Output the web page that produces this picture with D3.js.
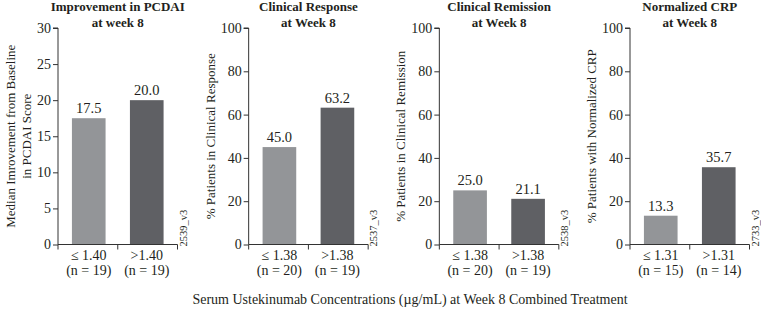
<!DOCTYPE html>
<html>
<head>
<meta charset="utf-8">
<script src="https://cdn.jsdelivr.net/npm/d3@7"></script>
<style>
	body { margin: 0; background: #fff; }
	svg { display: block; font-family: 'Liberation Serif', 'DejaVu Serif', serif; fill: #231f20; }
	.title { font-weight: bold; font-size: 13px; }
	.axis path, .axis line { stroke: #333; }
	.axis text { font-size: 14px; fill: #231f20; font-family: 'Liberation Serif', serif; }
</style>
</head>
<body>
<script>
const panelTitles = [
	['Improvement in PCDAI', 'at week 8'],
	['Clinical Response', 'at Week 8'],
	['Clinical Remission', 'at Week 8'],
	['Normalized CRP', 'at Week 8']
]
const yLabels = [
	['Median Imrovement from Baseline', 'in PCDAI Score'],
	['% Patients in Clinical Response'],
	['% Patients in Clinical Remission'],
	['% Patients with Normalized CRP']
]
const yMax = [30, 100, 100, 100]
const yStep = [5, 20, 20, 20]
const thresholds = ['1.40', '1.38', '1.38', '1.31']
const lowN = [19, 20, 20, 15]
const highN = [19, 19, 19, 14]
const lowValues = [17.5, 45.0, 25.0, 13.3]
const highValues = [20.0, 63.2, 21.1, 35.7]
const codes = ['2539_v3', '2537_v3', '2538_v3', '2733_v3']
const groups = ['low', 'high']
const barColors = { low: '#939598', high: '#5f6064' }
const xTitle = 'Serum Ustekinumab Concentrations (\u00b5g/mL) at Week 8 Combined Treatment'

const W = 761, H = 309
const svg = d3.select('body').append('svg').attr('width', W).attr('height', H)

const panelX = d3.scaleLinear().domain([0, 3]).range([58, 630])
const plotW = 119.5
const yTop = 28, yBottom = 244.5

const x = d3.scaleBand().domain(groups).range([0, plotW]).paddingInner(0.42).paddingOuter(0.24)

panelTitles.forEach((title, i) => {
	let g = svg.append('g').attr('transform', `translate(${panelX(i)},0)`)
	let y = d3.scaleLinear().domain([0, yMax[i]]).range([yBottom, yTop])
	let data = [
		{ key: 'low', value: lowValues[i], label: '\u2264 ' + thresholds[i], n: lowN[i] },
		{ key: 'high', value: highValues[i], label: '>' + thresholds[i], n: highN[i] }
	]

	// title
	g.selectAll('.title')
		.data(title)
		.enter()
		.append('text')
		.attr('class', 'title')
		.attr('x', plotW / 2)
		.attr('y', (d, k) => 11 + k * 16)
		.attr('text-anchor', 'middle')
		.text(d => d)

	// bars
	g.selectAll('rect')
		.data(data)
		.enter()
		.append('rect')
		.attr('x', d => x(d.key))
		.attr('width', x.bandwidth())
		.attr('y', d => y(d.value))
		.attr('height', d => yBottom - y(d.value))
		.style('fill', d => barColors[d.key])

	g.selectAll('.value')
		.data(data)
		.enter()
		.append('text')
		.attr('class', 'value')
		.attr('x', d => x(d.key) + x.bandwidth() / 2)
		.attr('y', d => y(d.value) - 5)
		.attr('text-anchor', 'middle')
		.style('font-size', '14.5px')
		.text(d => d.value.toFixed(1))

	// y axis
	g.append('g')
		.attr('class', 'axis')
		.call(d3.axisLeft(y).tickValues(d3.range(0, yMax[i] + 1, yStep[i])).tickSize(5).tickPadding(2))
		.call(a => a.select('.domain').attr('d', `M-5,${yTop}H0V${yBottom}`))

	// x axis
	let xa = g.append('g').attr('class', 'axis').attr('transform', `translate(0,${yBottom})`)
	xa.append('path')
		.attr('d', `M0,0H${plotW}`)
		.style('stroke', '#333').style('fill', 'none')
	xa.selectAll('line')
		.data([0, plotW / 2, plotW])
		.enter()
		.append('line')
		.attr('x1', d => d).attr('x2', d => d)
		.attr('y1', 0).attr('y2', 5)
		.style('stroke', '#333')

	g.selectAll('.cat')
		.data(data)
		.enter()
		.append('text')
		.attr('class', 'cat')
		.attr('x', d => x(d.key) + x.bandwidth() / 2)
		.attr('y', 259.5)
		.attr('text-anchor', 'middle')
		.style('font-size', '14px')
		.text(d => d.label)

	g.selectAll('.n')
		.data(data)
		.enter()
		.append('text')
		.attr('class', 'n')
		.attr('x', d => x(d.key) + x.bandwidth() / 2)
		.attr('y', 275)
		.attr('text-anchor', 'middle')
		.style('font-size', '14px')
		.text(d => `(n = ${d.n})`)

	// y label
	let lines = yLabels[i]
	g.selectAll('.ylab')
		.data(lines)
		.enter()
		.append('text')
		.attr('class', 'ylab')
		.attr('transform', (d, k) => `translate(${-34 - (lines.length - 1) * 9 + k * 16},${(yTop + yBottom) / 2}) rotate(-90)`)
		.attr('text-anchor', 'middle')
		.style('font-size', '13px')
		.text(d => d)

	// version code
	g.append('text')
		.attr('transform', `translate(${plotW + 9},${yBottom + 2}) rotate(-90)`)
		.style('font-size', '10.5px')
		.text(codes[i])
})

svg.append('text')
	.attr('x', 410)
	.attr('y', 304)
	.attr('text-anchor', 'middle')
	.style('font-size', '14px')
	.text(xTitle)
</script>
</body>
</html>
